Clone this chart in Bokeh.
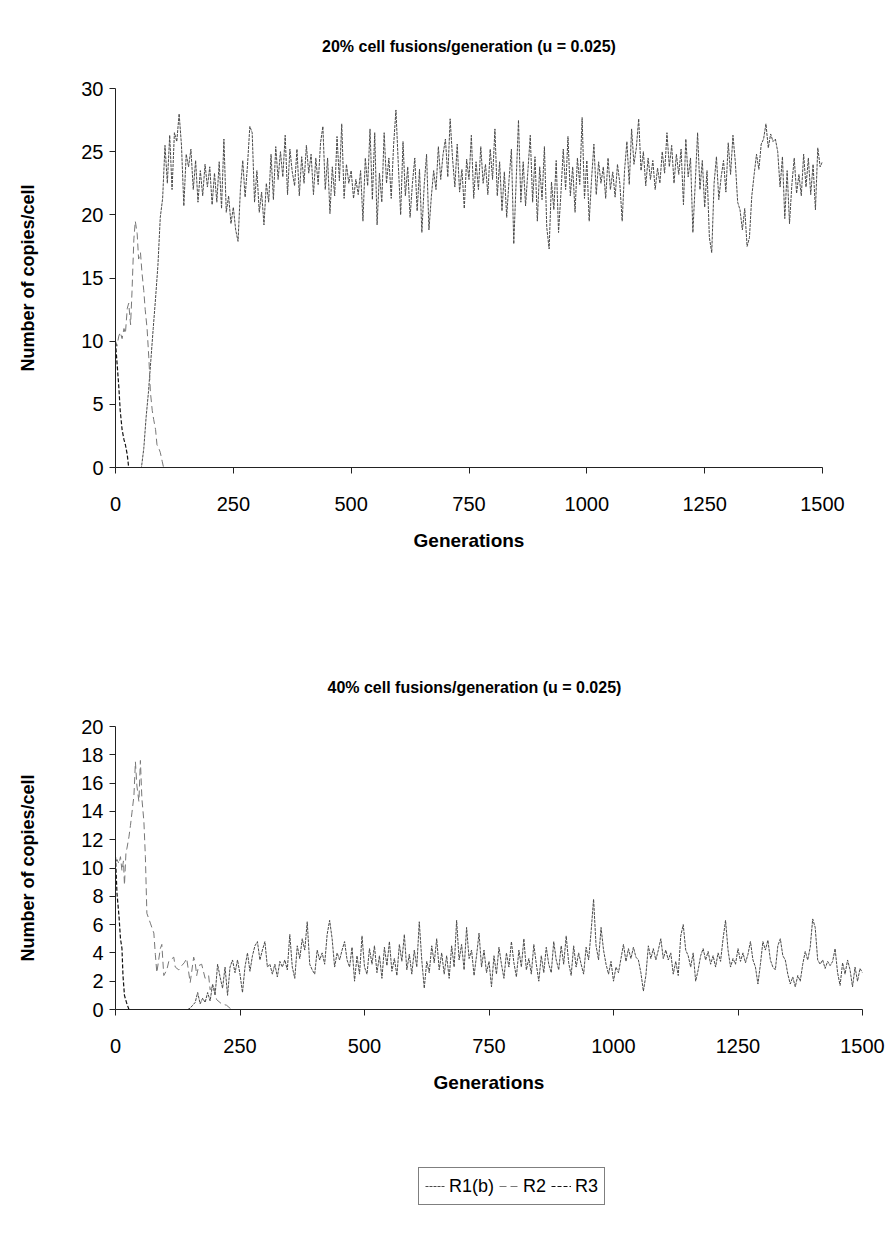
from bokeh.plotting import figure
from bokeh.models import Range1d, Legend, LegendItem, Title, FixedTicker
from bokeh.layouts import column
from bokeh.embed import file_html
from bokeh.resources import INLINE

FONT = "Liberation Sans"

# ---------------- data ----------------
gens = list(range(0, 1501, 5))  # R1(b) sampled every 5 generations
x_ticks = [0, 250, 500, 750, 1000, 1250, 1500]
top_y_ticks = [0, 5, 10, 15, 20, 25, 30]
bot_y_ticks = [0, 2, 4, 6, 8, 10, 12, 14, 16, 18, 20]

top_title = "20% cell fusions/generation (u = 0.025)"
bot_title = "40% cell fusions/generation (u = 0.025)"
x_label = "Generations"
y_label = "Number of copies/cell"
series_names = ["R1(b)", "R2", "R3"]

top_r1 = [
    0, 0, 0, 0, 0, 0, 0, 0, 0, 0, 0, 0, 1.5, 4, 6, 8.5, 11, 13.4, 16, 19.8,
    21.3, 25.5, 22.5, 26.3, 22, 26.5, 25.8, 28, 25.5, 20.7, 24.8, 23.8, 25.2, 22, 24.3, 21, 23.5, 21.5, 24, 22.2,
    23.8, 20.8, 23.3, 21, 24.2, 20.5, 26, 20.2, 21.5, 19.3, 20.6, 18.8, 17.9, 22, 24.3, 21.4, 23.9, 27, 26.5, 21,
    23.5, 20.2, 21.8, 19.2, 22.5, 21, 24.8, 21.2, 25.4, 22.8, 25, 23, 26.3, 21.6, 25.2, 23.4, 22.3, 25.2, 21.5, 24.6,
    22.5, 25.5, 23.3, 24.8, 21.6, 24.5, 22.4, 25.7, 27, 22, 24.5, 20.1, 23.8, 21.5, 26.2, 22.7, 27.2, 21.3, 24, 22.5,
    23.5, 21.3, 22.8, 21.6, 23.5, 19.5, 24.5, 22.3, 26.8, 21.2, 26.5, 19.2, 23.3, 21, 26.5, 22.5, 24.5, 21.3, 25.5, 28.3,
    24, 20, 25.8, 21.5, 23.8, 19.8, 22.5, 24.5, 20.3, 23.6, 18.6, 22.4, 24.8, 18.8, 21.4, 23.5, 22, 25.4, 22.8, 24.8,
    26, 23, 27.6, 24.5, 22.2, 25.6, 21.8, 23.6, 20.5, 24.4, 22.8, 26.3, 21.3, 24.2, 22, 25.4, 22.5, 24, 21.6, 25.2,
    22.8, 26.8, 21.5, 24.2, 20.3, 23.4, 19.8, 22.8, 25.2, 17.7, 22.6, 27.5, 21, 24.2, 20.7, 23.5, 26.3, 21, 24.6, 19.5,
    23.8, 21.2, 25.4, 19, 17.3, 22.6, 20.4, 24.3, 18.6, 21.7, 25.2, 22, 26.2, 21.5, 23.8, 20.2, 24.5, 22.4, 27.7, 21.3,
    24.3, 19.5, 22.8, 25.6, 21.6, 24.2, 22.5, 23.8, 21.3, 24.5, 22, 23.4, 21.4, 24, 22.5, 19.5, 23.5, 25.8, 22.4, 26.8,
    24, 25.3, 27.6, 23.5, 25, 22.3, 24.5, 22.8, 24.3, 22, 23.7, 22.5, 25, 23.3, 26.5, 23.8, 25.5, 22.5, 24.8, 23.2,
    25.2, 20.8, 26, 23, 24.5, 18.6, 22.5, 26.5, 22, 24.3, 20.6, 23.5, 18.2, 17, 22.5, 24.6, 21.2, 23, 24.3, 21.8,
    25.7, 23.2, 26.3, 24.2, 21, 20.4, 18.8, 20.5, 17.5, 18.2, 21.5, 23.2, 24.8, 23.6, 25.6, 26, 27.2, 25.3, 26.4, 25.8,
    26, 25, 22.2, 24.6, 19.7, 23.5, 19.3, 22.4, 24.5, 21.7, 23.2, 21.5, 24.8, 22.2, 24.5, 21.6, 24, 20.4, 25.3, 23.8,
    24.2,
]

top_r2_gens = [0, 3, 7, 10, 14, 18, 21, 25, 28, 32, 35, 39, 42, 46, 49, 53, 56, 60, 63, 67,
               71, 74, 78, 81, 85, 88, 92, 95, 99, 102, 110, 1500]
top_r2 = [10, 9.6, 10.4, 10.7, 10.2, 11, 10.6, 12.6, 13, 11.3, 13.9, 18.1, 19.5, 18.5, 16.5, 17, 15.5, 14, 12.5, 11,
          8.5, 6, 4.5, 3.8, 3, 1.8, 1.5, 1.2, 0.5, 0, 0, 0]

top_r3_gens = [0, 3, 7, 10, 14, 18, 21, 25, 28, 1500]
top_r3 = [9.9, 8.4, 6.4, 4.5, 3, 2.2, 1.8, 1, 0, 0]

bot_r1 = [
    0, 0, 0, 0, 0, 0, 0, 0, 0, 0, 0, 0, 0, 0, 0, 0, 0, 0, 0, 0,
    0, 0, 0, 0, 0, 0, 0, 0, 0, 0, 0.1, 0.3, 0.5, 1.2, 0.4, 0.8, 0.5, 1.2, 0.6, 1.8,
    1, 3.2, 2.3, 1.5, 3, 1, 3, 3.5, 2.6, 3.5, 2.5, 1.2, 3, 4, 2.7, 3.8, 4.5, 4.8, 3.5, 4.2,
    4.8, 3, 3.2, 2.5, 3.2, 2.3, 3.4, 3, 3.5, 2.8, 5.3, 3, 2.2, 4.5, 3.6, 5, 4.2, 6.2, 3.2, 2.8,
    2.5, 4.2, 3.5, 4, 3.2, 5.3, 6.3, 5, 3, 4, 3.5, 4.2, 4.8, 3.5, 3, 4.4, 2, 3.8, 2.5, 5.2,
    3, 2.5, 4.3, 3.2, 4.5, 2.6, 3.8, 2.2, 4.4, 3.1, 4.8, 2.7, 3.6, 2.4, 4.6, 3.4, 5.3, 2.8, 3.9, 2.5,
    4.2, 3, 6.2, 3.5, 1.5, 3.4, 2.6, 4.5, 3.3, 5, 2.8, 4, 2.5, 3.8, 2.2, 4.5, 3, 6.3, 3.5, 4.6,
    2.8, 5.8, 3.6, 4.2, 2.4, 3.8, 5.4, 3, 4.2, 2.6, 3.4, 1.6, 3.8, 2.5, 4.4, 3.2, 2.2, 4, 3, 4.8,
    3.3, 2.3, 4.2, 3, 5, 2.8, 3.6, 2.5, 4.6, 3.2, 2, 3.8, 2.6, 4.4, 3.2, 2.6, 4.8, 3.5, 2.8, 4.5,
    3.2, 5.2, 3.3, 2.4, 4.5, 3, 4, 3.2, 2.5, 4.4, 3.5, 5.5, 7.8, 4.5, 3.5, 5.8, 4.2, 3.2, 2.5, 3.4,
    2, 3, 2.6, 3.6, 4.6, 3.4, 4.3, 3.6, 4.4, 3.7, 3.5, 2.6, 1.3, 2.4, 4.5, 3.6, 4.3, 3.5, 4.2, 5,
    3.6, 4.2, 3.5, 4, 2.5, 3.4, 2.4, 5.2, 6, 4.2, 3.8, 3, 4, 2, 2.8, 3.8, 4.3, 3.5, 4.1, 3.2,
    3.8, 3, 4, 3.4, 5, 6.3, 4.2, 3, 3.6, 3.2, 4.3, 3.4, 4, 3.3, 3.9, 4.8, 3.5, 3, 1.8, 3.2,
    4.8, 4.2, 4.9, 3.5, 3, 2.8, 4.5, 5, 3.8, 3.5, 2.5, 1.8, 2.3, 1.6, 2.4, 2, 3.2, 4.1, 3.5, 4.4,
    6.4, 5.8, 3.5, 3.2, 3.5, 2.9, 3.4, 3.1, 3.4, 4.3, 2.6, 1.7, 3.3, 2.5, 3.5, 2.8, 1.6, 3, 2, 2.9,
    2.6,
]

bot_r2_gens = [0, 3, 7, 10, 13, 16, 18, 21, 23, 27, 30, 33, 37, 40, 43, 47, 50, 53, 57, 60,
               63, 70, 77, 80, 83, 90, 93, 97, 103, 107, 117, 120, 127, 133, 138, 143, 150, 157, 160, 163,
               167, 173, 180, 187, 190, 197, 203, 213, 223, 233, 1500]
bot_r2 = [10.4, 10.6, 10.3, 10.8, 9.8, 10.5, 8.8, 11.1, 11.4, 12.2, 13, 13.9, 15.1, 17.5, 15.8, 14.7, 17.6, 14.9, 13.3, 10.8,
          6.8, 6.1, 5.4, 3.9, 2.6, 4.3, 4.6, 2.4, 2.8, 3.4, 3.7, 3, 2.8, 3.1, 3.3, 3.6, 1.9, 3.7, 3.3, 2.4,
          3.1, 3.2, 2.2, 2.4, 1.4, 1.7, 0.7, 0.4, 0.3, 0, 0]

bot_r3_gens = [0, 3, 7, 10, 13, 15, 18, 22, 27, 1500]
bot_r3 = [10.8, 8.2, 6.6, 5.0, 4.3, 2.4, 1.0, 0.5, 0, 0]

# ---------------- styles ----------------
R1_STYLE = dict(line_color="#4a4a4a", line_width=1, line_dash="3 1")
R2_STYLE = dict(line_color="#777777", line_width=1, line_dash="7 4")
R3_STYLE = dict(line_color="#111111", line_width=1.2, line_dash="4 2")


def make_fig(title_text, ymax, yticks, frame_w, frame_h, left, right, top, bottom,
             title_standoff, title_align, title_offset, ylabel_standoff, r1, r2x, r2, r3x, r3):
    p = figure(frame_width=frame_w, frame_height=frame_h,
               min_border_left=left, min_border_right=right,
               min_border_top=top, min_border_bottom=bottom,
               x_range=Range1d(0, 1500), y_range=Range1d(0, ymax),
               output_backend="svg", toolbar_location=None, tools="")
    p.title = Title(text=title_text, align=title_align, text_font=FONT,
                    text_font_size="16px", text_font_style="bold",
                    text_color="black", standoff=title_standoff, offset=title_offset)
    p.outline_line_color = None
    p.grid.grid_line_color = None
    p.background_fill_color = "white"
    p.border_fill_color = "white"

    for ax in (p.xaxis[0], p.yaxis[0]):
        ax.axis_line_color = "#222222"
        ax.axis_line_width = 1
        ax.major_tick_line_color = "#222222"
        ax.major_tick_in = 0
        ax.major_tick_out = 6
        ax.minor_tick_line_color = None
        ax.major_label_text_font = FONT
        ax.major_label_text_font_size = "20px"
        ax.major_label_text_color = "black"
        ax.axis_label_text_font = FONT
        ax.axis_label_text_font_style = "bold"
        ax.axis_label_text_color = "black"

    p.xaxis.axis_label_text_font_size = "19px"
    p.yaxis.axis_label_text_font_size = "18px"
    p.xaxis.ticker = FixedTicker(ticks=x_ticks)
    p.yaxis.ticker = FixedTicker(ticks=yticks)
    p.xaxis.axis_label = x_label
    p.yaxis.axis_label = y_label
    p.xaxis.major_label_standoff = 23
    p.xaxis.axis_label_standoff = 16
    p.yaxis.major_label_standoff = 6
    p.yaxis.axis_label_standoff = ylabel_standoff

    p.line(gens, r1, **R1_STYLE)
    p.line(r2x, r2, **R2_STYLE)
    p.line(r3x, r3, **R3_STYLE)
    return p


p1 = make_fig(top_title, 30, top_y_ticks, 707, 379, 115, 64, 88, 133, 67, "center", 0, 40,
              top_r1, top_r2_gens, top_r2, top_r3_gens, top_r3)
p2 = make_fig(bot_title, 20, bot_y_ticks, 747, 283, 115, 24, 126, 95, 61, "left", 212, 40,
              bot_r1, bot_r2_gens, bot_r2, bot_r3_gens, bot_r3)

# legend strip: series lines of the lower panel referenced (hidden) only for the key
p3 = figure(width=886, height=130, min_border=0, x_range=Range1d(0, 1500), y_range=Range1d(0, 20),
            output_backend="svg", toolbar_location=None, tools="",
            x_axis_location=None, y_axis_location=None)
p3.outline_line_color = None
p3.grid.visible = False
key_lines = [
    p3.line(gens, bot_r1, visible=False, **R1_STYLE),
    p3.line(bot_r2_gens, bot_r2, visible=False, **R2_STYLE),
    p3.line(bot_r3_gens, bot_r3, visible=False, **R3_STYLE),
]
legend = Legend(items=[LegendItem(label=n, renderers=[r]) for n, r in zip(series_names, key_lines)],
                orientation="horizontal", location=(303, 29),
                label_text_font=FONT, label_text_font_size="18px", label_text_color="black",
                border_line_color="black", border_line_width=1, background_fill_alpha=1,
                glyph_width=20, glyph_height=24, label_standoff=4, spacing=5,
                padding=6, margin=0, label_height=24, inactive_fill_alpha=0)
p3.add_layout(legend, "center")

layout = column(p1, p2, p3, spacing=0)
open("out.html", "w").write(file_html(layout, INLINE))
